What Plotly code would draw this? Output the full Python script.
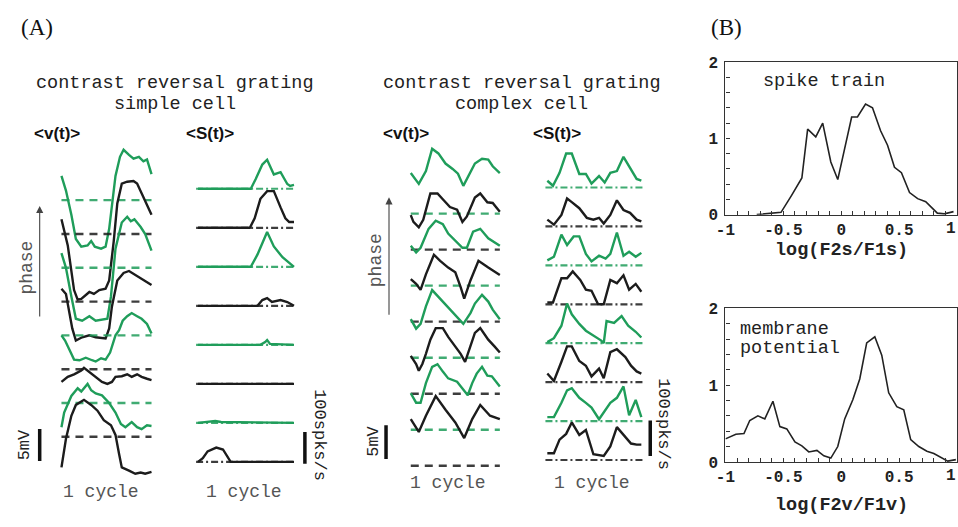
import plotly.graph_objects as go

W, H = 958, 527
GREEN = "#1f9d5a"
BLACK = "#1c1c1c"
MONO = "Liberation Mono"

# ---------------- Panel A data ----------------
# simple cell, <v(t)> in mV, time in cycles (top trace first)
SIMPLE_V_T = [
    [0, .05, .11, .16, .22, .29, .33, .37, .44, .49, .53, .56, .60, .65, .69, .75, .80, .86, .91, .95, 1.0],
    [0, .07, .14, .18, .22, .31, .36, .42, .49, .53, .58, .62, .67, .73, .80, .84, .89, .97, 1.0],
    [0, .05, .11, .16, .23, .31, .38, .51, .55, .60, .67, .73, .77, .81, .88, .93, 1.0],
    [0, .05, .12, .16, .23, .31, .38, .49, .53, .56, .62, .69, .75, .82, .89, 1.0],
    [0, .04, .09, .14, .20, .27, .34, .38, .44, .49, .54, .57, .60, .64, .68, .73, .78, .84, .89, .95, 1.0],
    [0, .07, .14, .22, .25, .31, .38, .45, .51, .56, .60, .67, .73, .78, .84, .89, .95, 1.0],
    [0, .03, .11, .18, .22, .29, .33, .38, .45, .53, .60, .66, .71, .78, .84, .89, .95, 1.0],
    [0, .05, .11, .16, .25, .33, .40, .47, .55, .60, .64, .67, .75, .82, .88, .93, 1.0],
]
SIMPLE_V = [
    [3.8, 1.5, -2.3, -6.1, -7.3, -7.1, -6.4, -7.3, -7.6, -7.3, -4.5, -0.8, 3.8, 6.8, 7.9, 7.1, 6.5, 6.8, 6.1, 6.4, 4.1],
    [2.3, -1.8, -8.8, -10.3, -10.2, -9.1, -9.4, -8.8, -8.6, -7.3, -1.2, 4.8, 7.9, 8.2, 8.3, 7.9, 6.4, 4.1, 3.0],
    [2.3, 0, -4.5, -8.0, -8.3, -7.6, -8.3, -8.0, -4.5, 3.0, 7.1, 8.0, 7.3, 7.6, 6.4, 5.3, 2.7],
    [2.0, 1.2, -4.2, -6.1, -5.6, -5.3, -5.6, -5.8, -4.2, -0.8, 3.3, 4.5, 4.8, 4.2, 3.5, 2.6],
    [0, -0.8, -2.3, -3.8, -3.9, -3.5, -3.9, -4.1, -3.6, -3.8, -2.7, -1.5, 0, 0.8, 2.3, 3.0, 3.5, 3.0, 2.6, 1.8, 0.3],
    [-2.0, -1.2, -0.8, -0.2, 0.2, -0.5, -1.2, -2.0, -2.3, -2.0, -1.2, -1.1, -0.8, -1.2, -0.8, -1.2, -1.5, -1.7],
    [-3.8, -1.5, 1.1, 2.3, 1.8, 3.0, 2.0, 1.5, 1.2, 0, -1.5, -3.3, -3.8, -3.0, -3.8, -4.1, -3.5, -3.6],
    [-4.8, -0.3, 3.3, 5.0, 5.8, 5.0, 4.1, 2.6, 1.8, 0.3, -2.7, -4.8, -5.3, -5.8, -5.6, -5.8, -5.5],
]
# simple cell, <S(t)> in spikes/s
SIMPLE_S_T = [
    [0, .55, .60, .67, .72, .79, .86, .93, .96, 1.0],
    [0, .54, .59, .65, .72, .79, .86, .91, .95, 1.0],
    [0, .55, .62, .72, .79, .88, 1.0],
    [0, .62, .67, .72, .77, .86, .93, 1.0],
    [0, .65, .70, .72, .75, 1.0],
    [0, 1.0],
    [0, .10, .18, .24, 1.0],
    [0, .05, .10, .19, .26, .31, .34, 1.0],
]
SIMPLE_S = [
    [0, 0, 30, 76, 91, 45, 52, 15, 9, 12],
    [0, 0, 30, 91, 115, 115, 64, 30, 18, 18],
    [0, 0, 39, 109, 64, 30, 0],
    [0, 0, 18, 24, 12, 18, 12, 0],
    [0, 0, 9, 15, 3, 0],
    [0, 0],
    [0, 3, 6, 3, 0],
    [0, 12, 33, 45, 39, 15, 0, 0],
]
# complex cell, <v(t)> in mV
COMPLEX_V_T = [
    [0, .09, .17, .24, .31, .39, .47, .53, .59, .67, .72, .80, .87, .92, 1.0],
    [0, .03, .09, .14, .22, .30, .37, .44, .52, .58, .63, .72, .78, .86, .92, 1.0],
    [0, .06, .11, .20, .28, .36, .42, .50, .58, .63, .70, .78, .87, 1.0],
    [0, .06, .11, .17, .26, .33, .42, .50, .56, .60, .67, .76, .87, 1.0],
    [0, .06, .11, .17, .24, .31, .41, .50, .59, .67, .72, .80, .87, .92, 1.0],
    [0, .06, .09, .13, .17, .22, .28, .36, .42, .50, .56, .61, .67, .72, .78, .87, .94, 1.0],
    [0, .06, .11, .17, .24, .30, .36, .42, .52, .61, .64, .69, .74, .80, .86, .91, 1.0],
    [0, .09, .17, .28, .39, .50, .60, .69, .78, .89, 1.0],
]
COMPLEX_V = [
    [6.0, 4.4, 6.3, 9.6, 8.9, 7.4, 6.6, 5.9, 4.1, 6.0, 7.4, 8.1, 8.0, 7.0, 6.0],
    [5.1, 4.1, 3.3, 4.4, 8.3, 8.3, 7.3, 6.3, 5.9, 4.1, 4.9, 7.7, 8.3, 7.0, 6.9, 5.6],
    [5.9, 4.9, 5.6, 8.4, 9.6, 9.1, 7.7, 6.7, 5.6, 5.6, 8.0, 8.4, 7.0, 5.9],
    [6.3, 5.6, 4.7, 7.0, 9.9, 9.0, 8.0, 7.3, 5.1, 3.4, 6.1, 9.0, 8.0, 6.9],
    [5.7, 4.3, 5.0, 7.6, 10.0, 9.0, 7.6, 6.4, 5.0, 6.6, 8.0, 9.3, 8.3, 7.1, 5.7],
    [5.6, 4.4, 3.4, 4.4, 5.9, 8.0, 9.7, 9.7, 8.4, 7.0, 5.9, 4.7, 7.0, 9.0, 9.7, 8.0, 7.0, 6.1],
    [5.4, 4.0, 4.0, 6.9, 9.3, 9.7, 8.6, 7.6, 7.1, 5.7, 5.1, 6.9, 8.3, 9.3, 8.0, 7.9, 6.4],
    [6.9, 5.0, 7.4, 10.3, 8.3, 6.4, 4.1, 6.9, 9.0, 7.4, 6.9],
]
# complex cell, <S(t)> in spikes/s
COMPLEX_S_T = [
    [0, .06, .13, .20, .26, .34, .41, .47, .55, .61, .67, .74, .81, .88, .95, 1.0],
    [0, .07, .15, .21, .26, .34, .42, .49, .55, .60, .67, .74, .81, .88, .95, 1.0],
    [0, .07, .15, .21, .28, .34, .41, .47, .55, .62, .67, .74, .81, .87, .94, 1.0],
    [0, .06, .15, .21, .27, .35, .41, .47, .54, .60, .67, .74, .81, .87, .94, 1.0],
    [0, .07, .15, .21, .26, .34, .41, .49, .57, .60, .63, .71, .79, .86, .94, 1.0],
    [0, .07, .15, .21, .26, .34, .41, .47, .55, .60, .67, .74, .83, .89, .95, 1.0],
    [0, .07, .15, .21, .26, .34, .41, .47, .55, .62, .67, .74, .81, .87, .94, 1.0],
    [0, .07, .13, .20, .26, .34, .41, .49, .60, .67, .74, .81, .89, .95, 1.0],
]
COMPLEX_S = [
    [19, 5, 41, 95, 95, 38, 38, 11, 32, 14, 41, 46, 86, 54, 24, 19],
    [19, 5, 32, 78, 68, 51, 24, 19, 24, 8, 32, 73, 46, 38, 19, 14],
    [14, 24, 86, 57, 81, 81, 32, 11, 27, 19, 32, 92, 27, 38, 24, 35],
    [5, 5, 73, 73, 92, 68, 41, 38, 0, 0, 68, 59, 81, 41, 57, 35],
    [3, 14, 49, 111, 81, 54, 35, 22, 8, 0, 62, 57, 76, 49, 32, 16],
    [24, 3, 57, 100, 100, 59, 46, 16, 38, 11, 84, 92, 70, 46, 30, 24],
    [11, 11, 51, 86, 92, 65, 51, 38, 5, 30, 51, 65, 97, 16, 59, 11],
    [19, 19, 57, 73, 105, 70, 84, 16, 11, 38, 92, 70, 46, 43, 43],
]
TRACE_COLORS = [GREEN, BLACK, GREEN, BLACK, GREEN, BLACK, GREEN, BLACK]

# ---------------- Panel B data ----------------
SPIKE_X = [-0.73, -0.59, -0.52, -0.43, -0.34, -0.29, -0.22, -0.16, -0.09, -0.03, 0.03, 0.09, 0.14,
           0.21, 0.27, 0.34, 0.40, 0.46, 0.52, 0.59, 0.66, 0.73, 0.83, 0.89, 0.97]
SPIKE_Y = [0, 0.02, 0.03, 0.25, 0.48, 1.12, 1.02, 1.20, 0.69, 0.46, 0.86, 1.28, 1.28,
           1.45, 1.40, 1.10, 0.91, 0.62, 0.55, 0.29, 0.21, 0.17, 0.02, 0.01, 0.04]
MEMB_X = [-1, -0.91, -0.84, -0.79, -0.72, -0.66, -0.59, -0.53, -0.47, -0.40, -0.34, -0.28, -0.21,
          -0.15, -0.09, -0.03, 0.03, 0.10, 0.16, 0.22, 0.29, 0.35, 0.41, 0.48, 0.54, 0.60, 0.67,
          0.74, 0.80, 0.86, 0.92, 0.99]
MEMB_Y = [0.30, 0.36, 0.37, 0.54, 0.60, 0.56, 0.79, 0.46, 0.43, 0.26, 0.21, 0.13, 0.15,
          0.08, 0.05, 0.20, 0.56, 0.81, 1.08, 1.55, 1.63, 1.39, 0.90, 0.72, 0.68, 0.29, 0.20,
          0.14, 0.11, 0.06, 0.01, 0.03]
X_TICKS = [-1, -0.5, 0, 0.5]
X_TICKTEXT = ["-1", "-0.5", "0", "0.5"]
X_LAST_TICK = "1"
Y_TICKS = [0, 1, 2]


def fx(px):
    return px / W


def fy(py):
    return 1 - py / H


fig = go.Figure()

# column layout: (axis id, data t, data v, domain px, x0 px, x1 px, px per unit, bottom baseline px,
#                 spacing px, dash, scalebar len, bar px x, bar bottom px)
columns = [
    ("", SIMPLE_V_T, SIMPLE_V, (0, 150), 52, 143, 6.6, 445, 35.0, "8px,6px", 5, 30, 470),
    ("2", SIMPLE_S_T, SIMPLE_S, (150, 330), 190, 287, 0.33, 471, 40.4, "7px,3px,2px,3px", 100, 298, 473),
    ("3", COMPLEX_V_T, COMPLEX_V, (340, 505), 405, 495, 7.0, 475, 37.3, "8px,6px", 5, 380, 468),
    ("4", COMPLEX_S_T, COMPLEX_S, (505, 680), 543, 638, 0.37, 469, 40.3, "7px,3px,2px,3px", 100, 647, 465),
]

shapes = []
for (aid, TT, VV, dom, x0, x1, ppu, blast, sp, dash, barlen, barx, barb) in columns:
    xa, ya = "x" + aid, "y" + aid
    step = sp / ppu
    n = len(VV)
    for k in range(n):
        off = (n - 1 - k) * step
        col = TRACE_COLORS[k]
        is_s = "3px" in dash
        fig.add_trace(go.Scatter(x=[-0.02, 1.02] if is_s else [0, 1], y=[off, off], mode="lines",
                                 line=dict(color=col, width=2.2 if is_s else 2.4, dash=dash),
                                 opacity=0.85, xaxis=xa, yaxis=ya, hoverinfo="skip", showlegend=False))
        fig.add_trace(go.Scatter(x=TT[k], y=[v + off for v in VV[k]], mode="lines",
                                 line=dict(color=col, width=2.4), xaxis=xa, yaxis=ya,
                                 hoverinfo="skip", showlegend=False))
    span = x1 - x0
    xr = [(dom[0] - x0) / span, (dom[1] - x0) / span]
    yr = [(blast - H) / ppu, blast / ppu]
    ax_common = dict(visible=False, showgrid=False, zeroline=False, fixedrange=True)
    fig.layout["xaxis" + aid] = dict(domain=[fx(dom[0]), fx(dom[1])], range=xr, anchor=ya, **ax_common)
    fig.layout["yaxis" + aid] = dict(domain=[0, 1], range=yr, anchor=xa, **ax_common)
    bx = (barx - x0) / span
    by0 = (blast - barb) / ppu
    shapes.append(dict(type="line", xref=xa, yref=ya, x0=bx, x1=bx, y0=by0, y1=by0 + barlen,
                       line=dict(color="#111", width=3.5)))

ann = []
# ---------------- Panel B ----------------
tf = dict(family=MONO, size=16, color="#222", weight="bold")
for aid, X, Y, top, bot in [("5", SPIKE_X, SPIKE_Y, 57, 215), ("6", MEMB_X, MEMB_Y, 312, 471)]:
    fig.add_trace(go.Scatter(x=X, y=Y, mode="lines", line=dict(color="#222", width=1.6),
                             xaxis="x" + aid, yaxis="y" + aid, hoverinfo="skip", showlegend=False))
    fig.layout["xaxis" + aid] = dict(
        domain=[fx(723), fx(957)], range=[-1, 1], anchor="y" + aid, showline=True, linecolor="#333",
        linewidth=1.2, mirror=True, ticks="inside", ticklen=4, tickcolor="#333", tickvals=X_TICKS,
        ticktext=X_TICKTEXT, tickfont=tf, showgrid=False, zeroline=False,
        minor=dict(dtick=0.1, tick0=-1, ticks="inside", ticklen=4, tickcolor="#333", showgrid=False))
    fig.layout["yaxis" + aid] = dict(
        domain=[fy(bot), fy(top)], range=[0, 2], anchor="x" + aid, showline=True, linecolor="#333",
        linewidth=1.2, mirror=True, ticks="inside", ticklen=4, tickcolor="#333", tickvals=Y_TICKS,
        tickfont=tf, showgrid=False, zeroline=False, ticklabelstandoff=3,
        minor=dict(dtick=0.2, tick0=0, ticks="inside", ticklen=4, tickcolor="#333", showgrid=False))
    # last x tick label sits at the window edge; keep it inside the page
    ann.append(dict(text=X_LAST_TICK, x=1.0, y=0, xref="paper", yref="y" + aid, yshift=-3,
                    showarrow=False, xanchor="right", yanchor="top", font=tf))


def txt(s, px, py, size=18, family=MONO, color="#222", angle=0, xanchor="center", weight="normal"):
    ann.append(dict(text=s, x=fx(px), y=fy(py), xref="paper", yref="paper", showarrow=False,
                    xanchor=xanchor, yanchor="middle", textangle=angle,
                    font=dict(family=family, size=size, color=color, weight=weight)))


txt("(A)", 27, 21, size=23, family="Liberation Serif", color="#111")
txt("(B)", 724, 21, size=23, family="Liberation Serif", color="#111")
for cx, name in [(167, "simple cell"), (517, "complex cell")]:
    txt("contrast reversal grating", cx, 79, size=18.5)
    txt(name, cx, 101, size=18.5)
for px in (48, 400):
    txt("&lt;v(t)&gt;", px, 131, size=17, family="Liberation Sans", color="#111", weight="bold")
for px in (202, 553):
    txt("&lt;S(t)&gt;", px, 131, size=17, family="Liberation Sans", color="#111", weight="bold")
for px, py in [(92, 502), (236, 502), (443, 493), (588, 493)]:
    txt("1 cycle", px, py, size=18, color="#555")
txt("5mV", 15, 453, size=17, angle=-90)
txt("5mV", 367, 450, size=17, angle=-90)
txt("100spks/s", 312, 443, size=17, angle=90)
txt("100spks/s", 661, 432, size=17, angle=90)
txt("phase", 17, 270, size=18, angle=-90, color="#555")
txt("phase", 370, 262, size=18, angle=-90, color="#555")
txt("spike train", 823, 77, size=18.5)
txt("membrane", 736, 334, size=18.5, xanchor="left")
txt("potential", 736, 354, size=18.5, xanchor="left")
txt("log(F2s/F1s)", 840, 252, size=18.5, weight="bold")
txt("log(F2v/F1v)", 840, 516, size=18.5, weight="bold")

for px, head, tail in [(30, 206, 318), (383, 197, 316)]:
    ann.append(dict(x=fx(px), y=fy(head), xref="paper", yref="paper", ax=0, ay=tail - head,
                    showarrow=True, arrowhead=2, arrowsize=1.3, arrowwidth=1.1, arrowcolor="#444",
                    text=""))

fig.update_layout(width=W, height=H, autosize=False, margin=dict(l=0, r=0, t=0, b=0),
                  paper_bgcolor="white", plot_bgcolor="rgba(0,0,0,0)", showlegend=False,
                  annotations=ann, shapes=shapes, hovermode=False)

fig.write_html("out.html")
